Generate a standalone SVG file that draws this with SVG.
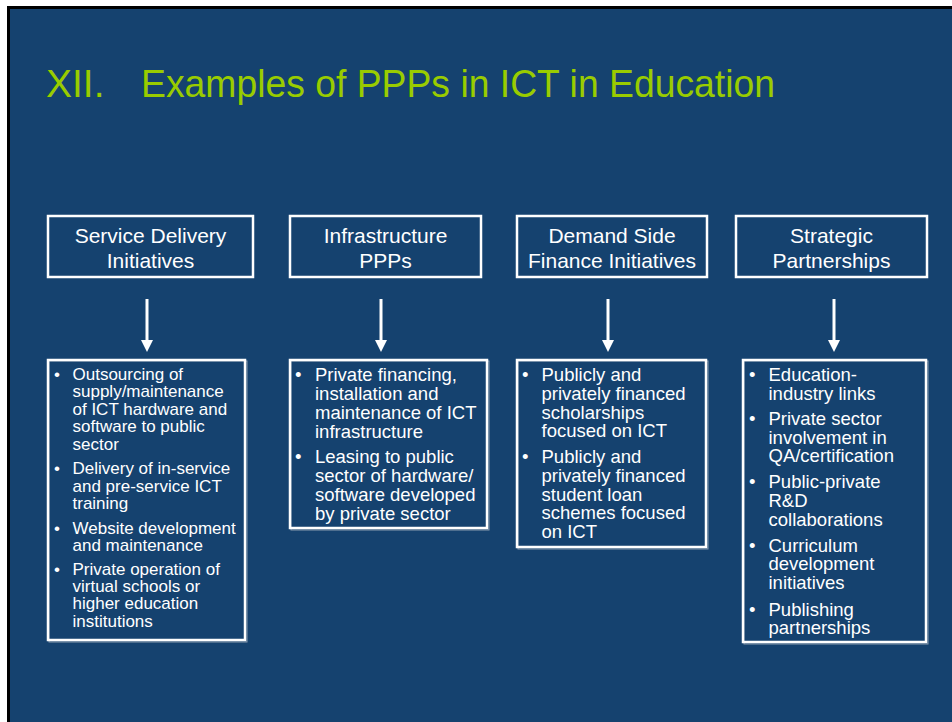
<svg xmlns="http://www.w3.org/2000/svg" width="952" height="722" viewBox="0 0 952 722">
  <defs>
    <style>
      .hdr { fill: none; stroke: #ffffff; stroke-width: 2.5; }
      .box { fill: none; stroke: #ffffff; stroke-width: 2.5; }
      .shadow { fill: none; stroke: #8a9cb0; stroke-width: 1; }
      .htxt { font-family: "Liberation Sans", Arial, sans-serif; font-size: 21px; fill: #ffffff; text-anchor: middle; }
      .btxt { font-family: "Liberation Sans", Arial, sans-serif; font-size: 18.5px; fill: #ffffff; }
      .small { font-size: 17px; }
      .title { font-family: "Liberation Sans", Arial, sans-serif; font-size: 39px; fill: #99cc00; }
      .shaft { stroke: #ffffff; stroke-width: 3; }
    </style>
    <!-- arrowhead: drawn along +x so orient="auto" points it down the line -->
    <marker id="head" viewBox="0 0 12 12" refX="0" refY="6" markerWidth="12" markerHeight="12" markerUnits="userSpaceOnUse" orient="auto">
      <path d="M0,0 L12,6 L0,12 Z" fill="#ffffff"/>
    </marker>
  </defs>

  <!-- page and slide frame -->
  <rect x="0" y="0" width="952" height="722" fill="#ffffff"/>
  <rect x="7" y="6" width="945" height="716" fill="#000000"/>
  <rect x="10" y="9" width="942" height="713" fill="#15426f"/>

  <!-- title -->
  <g id="title">
    <text class="title" x="46" y="97">XII.</text>
    <text class="title" x="141" y="97" textLength="634" lengthAdjust="spacingAndGlyphs">Examples of PPPs in ICT in Education</text>
  </g>

  <!-- category headers -->
  <g id="hdr-service">
    <rect class="hdr" x="48" y="216" width="205" height="61"/>
    <text class="htxt" x="150.5" y="242.5">Service Delivery</text>
    <text class="htxt" x="150.5" y="268">Initiatives</text>
  </g>
  <g id="hdr-infra">
    <rect class="hdr" x="290" y="216" width="191" height="61"/>
    <text class="htxt" x="385.5" y="242.5">Infrastructure</text>
    <text class="htxt" x="385.5" y="268">PPPs</text>
  </g>
  <g id="hdr-demand">
    <rect class="hdr" x="517" y="216" width="190" height="61"/>
    <text class="htxt" x="612" y="242.5">Demand Side</text>
    <text class="htxt" x="612" y="268">Finance Initiatives</text>
  </g>
  <g id="hdr-strategic">
    <rect class="hdr" x="736" y="216" width="191" height="61"/>
    <text class="htxt" x="831.5" y="242.5">Strategic</text>
    <text class="htxt" x="831.5" y="268">Partnerships</text>
  </g>

  <!-- connectors -->
  <g id="connectors">
    <line class="shaft" x1="147" y1="299" x2="147" y2="340" marker-end="url(#head)"/>
    <line class="shaft" x1="381" y1="299" x2="381" y2="340" marker-end="url(#head)"/>
    <line class="shaft" x1="608" y1="299" x2="608" y2="340" marker-end="url(#head)"/>
    <line class="shaft" x1="834" y1="299" x2="834" y2="340" marker-end="url(#head)"/>
  </g>

  <!-- example lists -->
  <g id="list-service">
    <rect class="shadow" x="49" y="361" width="198" height="281"/>
    <rect class="box" x="48" y="360" width="197" height="280"/>
    <g class="btxt small">
      <text x="54" y="380">•</text>
      <text x="72.5" y="380">Outsourcing of</text>
      <text x="72.5" y="397.4">supply/maintenance</text>
      <text x="72.5" y="414.8">of ICT hardware and</text>
      <text x="72.5" y="432.2">software to public</text>
      <text x="72.5" y="449.6">sector</text>
      <text x="54" y="474.3">•</text>
      <text x="72.5" y="474.3">Delivery of in-service</text>
      <text x="72.5" y="491.7">and pre-service ICT</text>
      <text x="72.5" y="509.1">training</text>
      <text x="54" y="533.5">•</text>
      <text x="72.5" y="533.5">Website development</text>
      <text x="72.5" y="550.9">and maintenance</text>
      <text x="54" y="574.5">•</text>
      <text x="72.5" y="574.5">Private operation of</text>
      <text x="72.5" y="591.9">virtual schools or</text>
      <text x="72.5" y="609.3">higher education</text>
      <text x="72.5" y="626.7">institutions</text>
    </g>
  </g>

  <g id="list-infra">
    <rect class="shadow" x="291" y="361" width="198" height="169"/>
    <rect class="box" x="290" y="360" width="197" height="168"/>
    <g class="btxt">
      <text x="295" y="381">•</text>
      <text x="315" y="381">Private financing,</text>
      <text x="315" y="400">installation and</text>
      <text x="315" y="419">maintenance of ICT</text>
      <text x="315" y="438">infrastructure</text>
      <text x="295" y="463.3">•</text>
      <text x="315" y="463.3">Leasing to public</text>
      <text x="315" y="482.3">sector of hardware/</text>
      <text x="315" y="501.3">software developed</text>
      <text x="315" y="520.3">by private sector</text>
    </g>
  </g>

  <g id="list-demand">
    <rect class="shadow" x="518" y="361" width="190" height="188"/>
    <rect class="box" x="517" y="360" width="189" height="187"/>
    <g class="btxt">
      <text x="522" y="381">•</text>
      <text x="541.5" y="381">Publicly and</text>
      <text x="541.5" y="399.8">privately financed</text>
      <text x="541.5" y="418.6">scholarships</text>
      <text x="541.5" y="437.4">focused on ICT</text>
      <text x="522" y="463">•</text>
      <text x="541.5" y="463">Publicly and</text>
      <text x="541.5" y="481.8">privately financed</text>
      <text x="541.5" y="500.6">student loan</text>
      <text x="541.5" y="519.4">schemes focused</text>
      <text x="541.5" y="538.2">on ICT</text>
    </g>
  </g>

  <g id="list-strategic">
    <rect class="shadow" x="744" y="361" width="184" height="283"/>
    <rect class="box" x="743" y="360" width="183" height="282"/>
    <g class="btxt">
      <text x="749" y="381">•</text>
      <text x="768.5" y="381">Education-</text>
      <text x="768.5" y="399.5">industry links</text>
      <text x="749" y="425">•</text>
      <text x="768.5" y="425">Private sector</text>
      <text x="768.5" y="443.6">involvement in</text>
      <text x="768.5" y="462.2">QA/certification</text>
      <text x="749" y="488.3">•</text>
      <text x="768.5" y="488.3">Public-private</text>
      <text x="768.5" y="507">R&amp;D</text>
      <text x="768.5" y="525.7">collaborations</text>
      <text x="749" y="551.7">•</text>
      <text x="768.5" y="551.7">Curriculum</text>
      <text x="768.5" y="570.4">development</text>
      <text x="768.5" y="589">initiatives</text>
      <text x="749" y="615.7">•</text>
      <text x="768.5" y="615.7">Publishing</text>
      <text x="768.5" y="634.3">partnerships</text>
    </g>
  </g>
</svg>
